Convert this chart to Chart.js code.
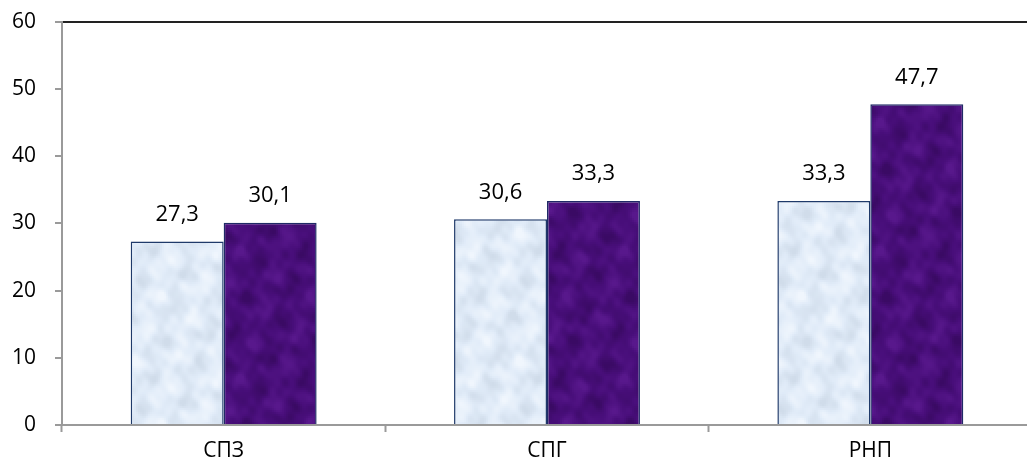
<!DOCTYPE html>
<html>
<head>
<meta charset="utf-8">
<script src="https://cdn.jsdelivr.net/npm/chart.js@4/dist/chart.umd.min.js"></script>
<style>
  html, body { margin: 0; padding: 0; background: #fff; overflow: hidden; }
  #wrap { position: relative; width: 1040px; height: 471px; overflow: hidden; }
  #c { position: absolute; left: 0; top: -10px; }
</style>
</head>
<body>
<div id="wrap"><canvas id="c" width="1040" height="481"></canvas></div>
<script>
// Categories and the two series
const categories = ['СПЗ', 'СПГ', 'РНП'];
const seriesA = [27.3, 30.6, 33.3];
const seriesB = [30.1, 33.3, 47.7];
const yTicks = [0, 10, 20, 30, 40, 50, 60];

// Mottled fill textures for the bars: a seamless tile made of periodic waves
function makeTexture(base, light, dark, seed) {
  const size = 128;
  const k = 2 * Math.PI / size;
  const cv = document.createElement('canvas');
  cv.width = size; cv.height = size;
  const g = cv.getContext('2d');
  const cell = 2;
  const waves = [
    [3, 1, 1.0], [1, 4, 0.8], [5, -2, 0.6], [-3, 5, 0.5],
    [7, 3, 0.35], [2, -7, 0.35], [9, 6, 0.25], [-8, 9, 0.2], [11, -5, 0.18]
  ];
  for (let y = 0; y < size; y += cell) {
    for (let x = 0; x < size; x += cell) {
      let v = 0, tot = 0;
      waves.forEach(([a, b, w], i) => {
        v += w * Math.sin(k * (a * x + b * y) + seed * (i + 1) * 1.7);
        tot += w;
      });
      v = v / tot * 1.6;
      v = Math.max(-1, Math.min(1, v));
      let col;
      if (v >= 0) col = base.map((c, i) => Math.round(c + (light[i] - c) * v));
      else col = base.map((c, i) => Math.round(c + (dark[i] - c) * -v));
      g.fillStyle = 'rgb(' + col.join(',') + ')';
      g.fillRect(x, y, cell, cell);
    }
  }
  return g.createPattern(cv, 'repeat');
}

const ctxMain = document.getElementById('c').getContext('2d');
const lightFill = makeTexture([224, 235, 248], [240, 246, 253], [208, 220, 234], 0.9);
const darkFill = makeTexture([72, 14, 122], [88, 24, 140], [58, 10, 100], 2.3);

// Value labels above the bars
const valueLabels = {
  id: 'valueLabels',
  afterDatasetsDraw(chart) {
    const g = chart.ctx;
    g.save();
    g.font = '22px "Open Sans", sans-serif';
    g.fillStyle = '#000';
    g.textAlign = 'center';
    g.textBaseline = 'middle';
    chart.data.datasets.forEach((ds, di) => {
      chart.getDatasetMeta(di).data.forEach((bar, i) => {
        g.fillText(String(ds.data[i]).replace('.', ','), bar.x, bar.y - 27);
      });
    });
    g.restore();
  }
};

new Chart(ctxMain, {
  type: 'bar',
  data: {
    labels: categories,
    datasets: [
      { data: seriesA, backgroundColor: lightFill, borderColor: '#1f3a6a', borderWidth: 1.5 },
      { data: seriesB, backgroundColor: darkFill, borderColor: '#1f2a66', borderWidth: 1.5 }
    ]
  },
  options: {
    responsive: false,
    animation: false,
    layout: { padding: { top: 9, right: 8, left: 0, bottom: 0 } },
    plugins: { legend: { display: false }, tooltip: { enabled: false } },
    datasets: { bar: { categoryPercentage: 0.575, barPercentage: 1.0 } },
    scales: {
      x: {
        grid: { color: 'transparent', tickColor: '#9a9a9a', tickLength: 7, tickWidth: 2, offset: true },
        border: { display: true, color: '#9a9a9a', width: 2 },
        ticks: { color: '#000', font: { family: 'Open Sans', size: 21 }, padding: 6 },
        afterFit(scale) { scale.height = 46; }
      },
      y: {
        min: 0, max: 60,
        afterBuildTicks(scale) { scale.ticks = yTicks.map(v => ({ value: v })); },
        grid: {
          color: c => (c.tick && c.tick.value === 60 ? '#222' : 'transparent'),
          lineWidth: 2,
          tickColor: '#9a9a9a', tickLength: 7, tickWidth: 2
        },
        border: { display: true, color: '#9a9a9a', width: 2 },
        ticks: { color: '#000', font: { family: 'Open Sans', size: 21 }, padding: 19 },
        afterFit(scale) { scale.width = 62; }
      }
    }
  },
  plugins: [valueLabels]
});
</script>
</body>
</html>
